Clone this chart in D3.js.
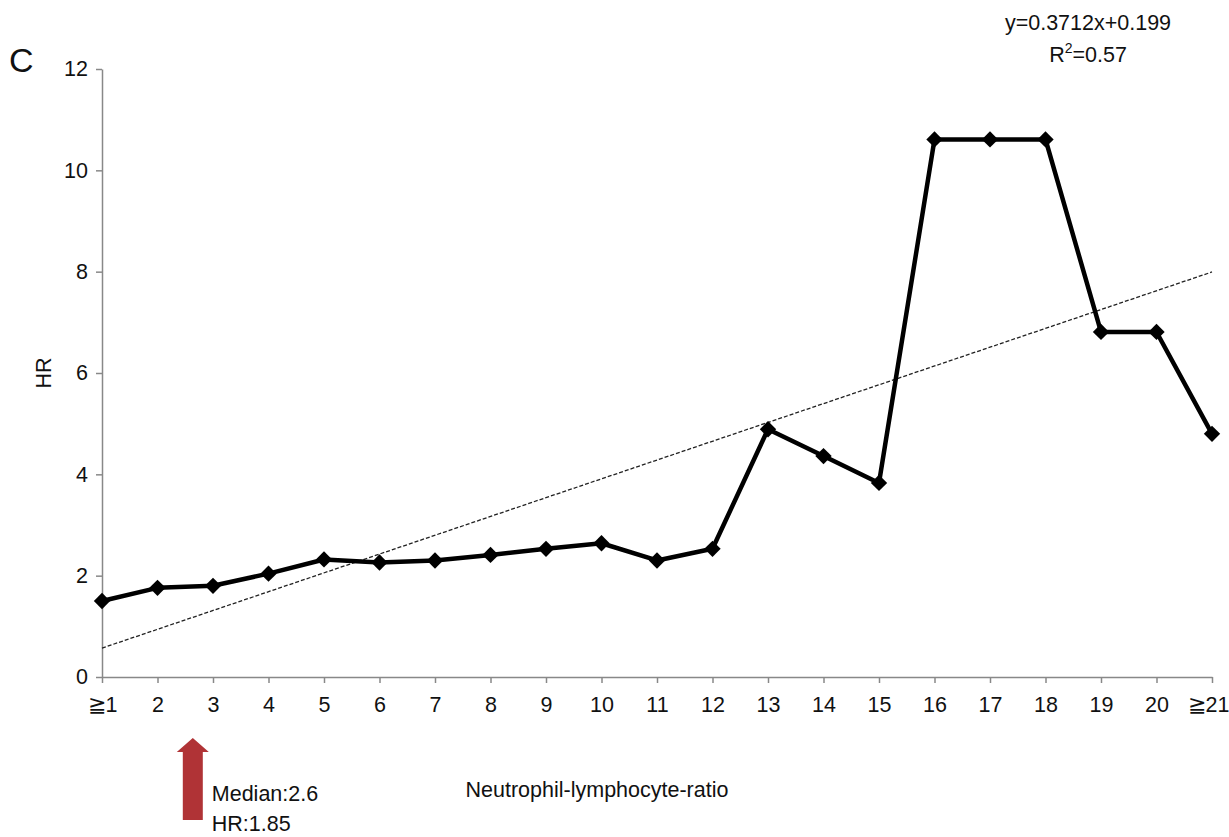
<!DOCTYPE html>
<html>
<head>
<meta charset="utf-8">
<script src="https://cdn.jsdelivr.net/npm/d3@7"></script>
<style>
  body { margin: 0; background: #fff; }
  text { font-family: "Liberation Sans", Arial, sans-serif; fill: #111; }
</style>
</head>
<body>
<div id="chart"></div>
<script>
const categories = ["≧1","2","3","4","5","6","7","8","9","10","11","12","13","14","15","16","17","18","19","20","≧21"];
const hr = [1.50,1.76,1.80,2.04,2.32,2.26,2.30,2.41,2.53,2.64,2.30,2.53,4.89,4.36,3.83,10.61,10.61,10.61,6.81,6.81,4.80];
const yTicks = [0,2,4,6,8,10,12];
const slope = 0.3712, intercept = 0.199, r2 = 0.57;
const median = 2.6, medianHR = 1.85;

const width = 1229, height = 837;
const fs = "21.5px";

const svg = d3.select("#chart").append("svg")
    .attr("width", width)
    .attr("height", height);

// numeric position 1..21 for the categories
const x = d3.scaleLinear().domain([1, 21]).range([102, 1212]);
const y = d3.scaleLinear().domain([0, 12]).range([677, 69]);

const pts = hr.map((v, i) => ({ k: i + 1, v }));

// y axis
const yAxis = svg.append("g")
    .attr("transform", `translate(${x(1)},0)`)
    .call(d3.axisLeft(y).tickValues(yTicks).tickSize(6).tickSizeOuter(0).tickPadding(8));
yAxis.select(".domain").attr("stroke", "#888").attr("stroke-width", 1.5);
yAxis.selectAll(".tick line").attr("stroke", "#888").attr("stroke-width", 1.5);
yAxis.selectAll(".tick text").style("font-size", fs).attr("fill", "#111");

// x axis
const xAxis = svg.append("g")
    .attr("transform", `translate(0,${y(0)})`)
    .call(d3.axisBottom(x).tickValues(d3.range(1, 22)).tickFormat(d => categories[d - 1])
      .tickSize(6).tickSizeOuter(0).tickPadding(14));
xAxis.select(".domain").attr("stroke", "#888").attr("stroke-width", 1.5);
xAxis.selectAll(".tick line").attr("stroke", "#888").attr("stroke-width", 1.5);
xAxis.selectAll(".tick text").style("font-size", fs).attr("fill", "#111");
xAxis.selectAll(".tick text").filter(d => d === 21).attr("dx", -4);

// trend line
svg.append("line")
    .attr("x1", x(1)).attr("y1", y(slope * 1 + intercept))
    .attr("x2", x(21)).attr("y2", y(slope * 21 + intercept))
    .attr("stroke", "#222")
    .attr("stroke-width", 1.3)
    .attr("stroke-dasharray", "4,2");

// data line
const line = d3.line().x(d => x(d.k)).y(d => y(d.v));
svg.append("path")
    .datum(pts)
    .attr("d", line)
    .attr("fill", "none")
    .attr("stroke", "#000")
    .attr("stroke-width", 4.5)
    .attr("stroke-linejoin", "round");

svg.append("g")
  .selectAll("path")
  .data(pts)
  .join("path")
    .attr("d", d3.symbol(d3.symbolDiamond2, 170))
    .attr("transform", d => `translate(${x(d.k)},${y(d.v)})`)
    .attr("fill", "#000");

// labels
svg.append("text")
    .attr("x", 9).attr("y", 72)
    .style("font-size", "34px")
    .text("C");

svg.append("text")
    .attr("transform", `translate(51,${(y(0) + y(12)) / 2}) rotate(-90)`)
    .attr("text-anchor", "middle")
    .style("font-size", fs)
    .text("HR");

svg.append("text")
    .attr("x", 597).attr("y", 797)
    .attr("text-anchor", "middle")
    .style("font-size", fs)
    .text("Neutrophil-lymphocyte-ratio");

const eq = svg.append("g").attr("text-anchor", "middle").style("font-size", fs);
eq.append("text").attr("x", 1088).attr("y", 30).text(`y=${slope}x+${intercept}`);
const r2t = eq.append("text").attr("x", 1088).attr("y", 62);
r2t.append("tspan").text("R");
r2t.append("tspan").attr("dy", -9).style("font-size", "14px").text("2");
r2t.append("tspan").attr("dy", 9).text(`=${r2}`);

// median arrow
const ax = x(median) + 2;
svg.append("path")
    .attr("d", `M${ax - 10},820 L${ax - 10},752 L${ax - 16},752 L${ax},738 L${ax + 16},752 L${ax + 10},752 L${ax + 10},820 Z`)
    .attr("fill", "#b03336");

svg.append("text")
    .attr("x", ax + 19).attr("y", 801)
    .style("font-size", fs)
    .text(`Median:${median}`);
svg.append("text")
    .attr("x", ax + 19).attr("y", 831)
    .style("font-size", fs)
    .text(`HR:${medianHR}`);
</script>
</body>
</html>
